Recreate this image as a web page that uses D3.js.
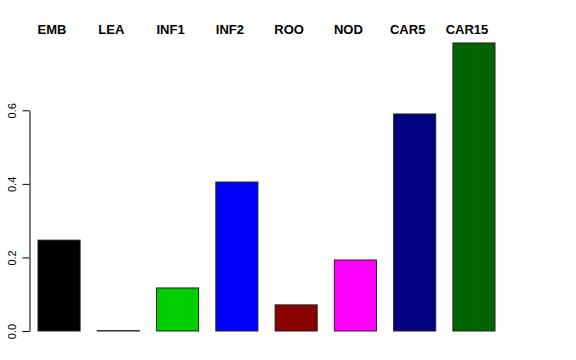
<!DOCTYPE html>
<html>
<head>
    <script type="text/javascript" src="https://d3js.org/d3.v7.min.js"></script>
    <style>
        body { margin: 0; background: #fff; font-family: "Liberation Sans", Arial, sans-serif; }
    </style>
</head>
<body>
    <div id="svgcontainer"></div>
    <script>
        var width = 576;
        var height = 360;

        var categories = ["EMB", "LEA", "INF1", "INF2", "ROO", "NOD", "CAR5", "CAR15"];
        var values = [0.247, 0.001, 0.117, 0.405, 0.071, 0.193, 0.59, 0.783];
        var colors = ["#000000", "#ff0000", "#00cd00", "#0000ff", "#8b0000", "#ff00ff", "#000080", "#006400"];
        var yTicks = [0, 0.2, 0.4, 0.6];

        var svg = d3.select("#svgcontainer")
            .append("svg")
            .attr("width", width)
            .attr("height", height);

        var x = d3.scaleBand()
            .domain(categories)
            .range([38, 495])
            .paddingInner(0.29)
            .paddingOuter(0);

        var y = d3.scaleLinear()
            .domain([0, 0.6])
            .range([331, 110.3]);

        // bars
        svg.selectAll("rect.bar")
            .data(categories)
            .enter()
            .append("rect")
            .attr("class", "bar")
            .attr("x", d => x(d))
            .attr("width", x.bandwidth())
            .attr("y", (d, i) => y(values[i]))
            .attr("height", (d, i) => y(0) - y(values[i]))
            .attr("fill", (d, i) => colors[i])
            .attr("stroke", "#222")
            .attr("stroke-width", 1);

        // category labels across the top
        svg.selectAll("text.cat")
            .data(categories)
            .enter()
            .append("text")
            .attr("class", "cat")
            .attr("x", d => x(d) + x.bandwidth() / 2 - 7)
            .attr("y", 34)
            .attr("text-anchor", "middle")
            .attr("font-weight", "bold")
            .attr("font-size", "13px")
            .text(d => d);

        // y axis
        var axis = svg.append("g")
            .attr("transform", "translate(29.5,0)")
            .call(d3.axisLeft(y)
                .tickValues(yTicks)
                .tickFormat(d3.format(".1f"))
                .tickSize(7)
                .tickSizeOuter(0));

        axis.select(".domain").attr("stroke", "#000");
        axis.selectAll(".tick line").attr("stroke", "#000");
        axis.selectAll(".tick text")
            .attr("x", 0)
            .attr("y", 0)
            .attr("dy", 0)
            .attr("transform", "translate(-14,0) rotate(-90)")
            .attr("text-anchor", "middle")
            .attr("font-size", "11px")
            .attr("font-family", "Liberation Sans, Arial, sans-serif")
            .attr("fill", "#000");
    </script>
</body>
</html>
